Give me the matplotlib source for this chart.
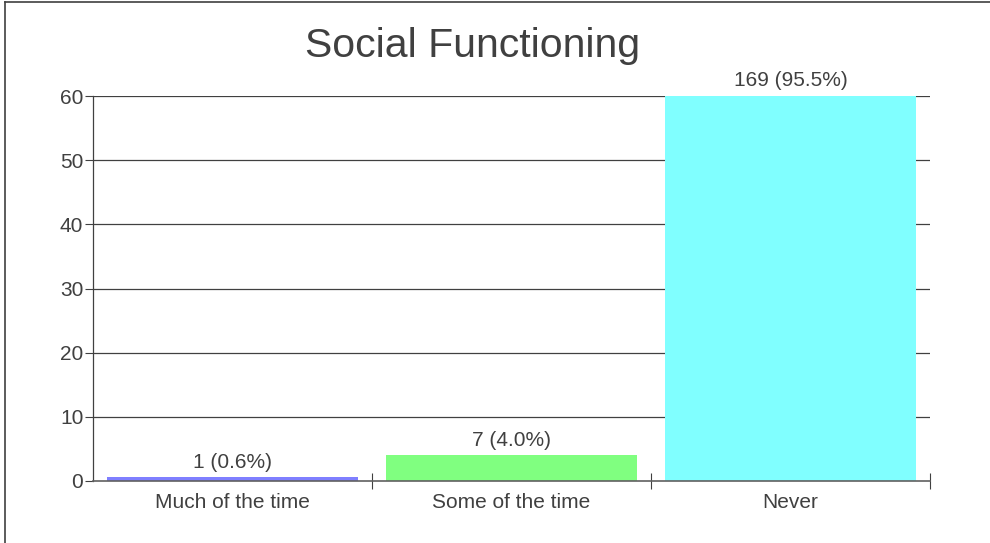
import matplotlib
matplotlib.use("Agg")
import matplotlib.pyplot as plt
from matplotlib.lines import Line2D
import numpy as np

# data
categories = ["Much of the time", "Some of the time", "Never"]
counts = [1, 7, 169]
percents = [0.6, 4.0, 95.5]
colors = ["#7f7fff", "#80ff80", "#80ffff"]
yticks = [0, 10, 20, 30, 40, 50, 60]

TXT = "#404040"
plt.rcParams["font.family"] = ["Liberation Sans", "DejaVu Sans"]

fig = plt.figure(figsize=(9.9, 5.43), dpi=100)
ax = fig.add_axes([93 / 990, 1 - 481 / 543, 837 / 990, 385 / 543])

x = np.arange(len(categories))
ax.bar(x, percents, width=0.9, color=colors, zorder=2)
ax.set_xlim(-0.5, len(categories) - 0.5)
ax.set_ylim(0, 60)

for i, (c, p) in enumerate(zip(counts, percents)):
    ax.annotate(f"{c} ({p:.1f}%)", (i, min(p, 60)), xytext=(0, 4),
                textcoords="offset points", ha="center", va="bottom",
                fontsize=15, color=TXT, annotation_clip=False)

# gridlines
for t in yticks[1:]:
    ax.axhline(t, color="#404040", lw=0.9, zorder=1)

ax.set_yticks(yticks)
ax.set_yticklabels([str(t) for t in yticks], fontsize=15, color=TXT)
ax.tick_params(axis="y", length=6, width=0.8, color="#404040", pad=1)

# category labels at centers, ticks at boundaries
ax.set_xticks(x)
ax.set_xticklabels(categories, fontsize=15, color=TXT)
ax.tick_params(axis="x", length=0, pad=9)
ax.set_xticks(np.arange(len(categories)) + 0.5, minor=True)
ax.tick_params(axis="x", which="minor", direction="inout", length=12,
               width=0.8, color="#404040")

for s in ["top", "right"]:
    ax.spines[s].set_visible(False)
ax.spines["left"].set_color("#404040")
ax.spines["left"].set_linewidth(0.9)
ax.spines["bottom"].set_color("#606060")
ax.spines["bottom"].set_linewidth(1.2)

fig.text(473 / 990, 1 - 46 / 543, "Social Functioning", ha="center",
         va="center", fontsize=29.5, color=TXT)

# outer frame (cut by the image edge)
fig.add_artist(Line2D([5 / 990, 5 / 990], [0, 1 - 2 / 543], transform=fig.transFigure,
                      color="#404040", lw=1.2))
fig.add_artist(Line2D([5 / 990, 1], [1 - 2 / 543, 1 - 2 / 543], transform=fig.transFigure,
                      color="#404040", lw=1.2))

fig.savefig("out.png", dpi=100)
